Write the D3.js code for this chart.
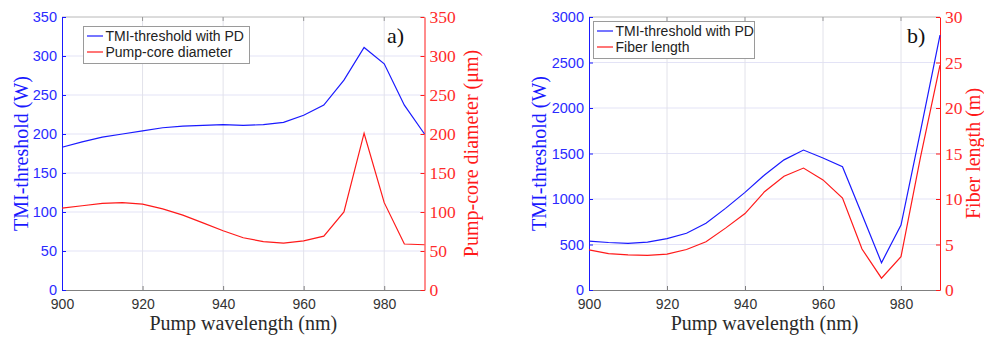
<!DOCTYPE html>
<html><head><meta charset="utf-8">
<script src="https://cdn.jsdelivr.net/npm/d3@7"></script>
<style>body{margin:0;background:#fff}svg{display:block}</style>
</head><body>
<svg id="c" width="984" height="339"></svg>
<script>
// ---------- data ----------
const wavelength = [900,905,910,915,920,925,930,935,940,945,950,955,960,965,970,975,980,985,990];
const tmiA  = [183,190,196,200,204,208,210,211,212,211,212,215,224,237,269,311,290,237,200];
const coreA = [105,108,111,112,110,104,96,86,76,67,62,60,63,69,100,201,112,59,58];
const tmiB  = [538,522,513,527,564,623,733,897,1073,1264,1430,1538,1450,1355,830,300,714,1745,2800];
const fiberB= [4.4,4.0,3.85,3.8,3.95,4.45,5.3,6.8,8.4,10.8,12.5,13.4,12.1,10.1,4.5,1.3,3.66,14.6,24.7];
const xTicks = [900,920,940,960,980];
const leftTicksA = [0,50,100,150,200,250,300,350];
const rightTicksA = [0,50,100,150,200,250,300,350];
const leftTicksB = [0,500,1000,1500,2000,2500,3000];
const rightTicksB = [0,5,10,15,20,25,30];

const BLUE = "#1a1aff", RED = "#ff1a1a";
const svg = d3.select("#c");
const SANS = "'Liberation Sans', Arial, sans-serif";
const SERIF = "'Liberation Serif', 'Times New Roman', serif";
const fmt = d3.format("d");

function panel(o){
  const x = d3.scaleLinear().domain([900,990]).range([o.x0,o.x1]);
  const yL = d3.scaleLinear().domain(o.lDom).range([o.yb,o.yt]);
  const yR = d3.scaleLinear().domain(o.rDom).range([o.yb,o.yt]);
  const g = svg.append("g");
  // grid
  g.selectAll(".hg").data(o.lTicks.slice(1,-1)).join("line")
    .attr("x1",o.x0).attr("x2",o.x1).attr("y1",d=>yL(d)).attr("y2",d=>yL(d))
    .attr("stroke","#e3e3f6").attr("stroke-width",1);
  g.selectAll(".vg").data(xTicks.slice(1)).join("line")
    .attr("y1",o.yt).attr("y2",o.yb).attr("x1",d=>x(d)).attr("x2",d=>x(d))
    .attr("stroke","#e2e2ea").attr("stroke-width",1);
  // top border
  g.append("line").attr("x1",o.x0).attr("x2",o.x1).attr("y1",o.yt).attr("y2",o.yt)
    .attr("stroke","#b8b8b8");
  // bottom axis
  const xa = g.append("g").attr("transform",`translate(0,${o.yb})`)
    .call(d3.axisBottom(x).tickValues(xTicks).tickFormat(fmt).tickSizeInner(-4).tickSizeOuter(0).tickPadding(9));
  xa.select(".domain").attr("stroke","#808080");
  xa.selectAll(".tick line").attr("stroke","#808080");
  xa.selectAll("text").attr("font-family",SANS).attr("font-size","14px").attr("fill","#333");
  // top ticks
  g.selectAll(".tt").data(xTicks.slice(1)).join("line")
    .attr("x1",d=>x(d)).attr("x2",d=>x(d)).attr("y1",o.yt).attr("y2",o.yt+4).attr("stroke","#999");
  // left axis
  const la = g.append("g").attr("transform",`translate(${o.x0},0)`)
    .call(d3.axisLeft(yL).tickValues(o.lTicks).tickFormat(fmt).tickSizeInner(-4).tickSizeOuter(0).tickPadding(5));
  la.select(".domain").attr("stroke",BLUE);
  la.selectAll(".tick line").attr("stroke",BLUE);
  la.selectAll("text").attr("font-family",SANS).attr("font-size","14.5px").attr("fill","#2b2bff");
  // right axis
  const ra = g.append("g").attr("transform",`translate(${o.x1},0)`)
    .call(d3.axisRight(yR).tickValues(o.rTicks).tickFormat(fmt).tickSizeInner(-4).tickSizeOuter(0).tickPadding(5));
  ra.select(".domain").attr("stroke",RED);
  ra.selectAll(".tick line").attr("stroke",RED);
  ra.selectAll("text").attr("font-family",SERIF).attr("font-size","17.5px").attr("fill","#ff2b2b");
  // lines
  const lineL = d3.line().x((d,i)=>x(wavelength[i])).y(d=>yL(d));
  const lineR = d3.line().x((d,i)=>x(wavelength[i])).y(d=>yR(d));
  g.append("path").datum(o.lData).attr("d",lineL).attr("fill","none").attr("stroke",BLUE).attr("stroke-width",1.2);
  g.append("path").datum(o.rData).attr("d",lineR).attr("fill","none").attr("stroke",RED).attr("stroke-width",1.2);
  // titles
  const cx = (o.x0+o.x1)/2, cy=(o.yt+o.yb)/2;
  g.append("text").attr("x",cx).attr("y",330).attr("text-anchor","middle")
    .attr("font-family",SERIF).attr("font-size","20px").attr("fill","#2a2a2a").text("Pump wavelength (nm)");
  g.append("text").attr("transform",`translate(${o.lTitleX},${cy}) rotate(-90)`).attr("text-anchor","middle")
    .attr("font-family",SERIF).attr("font-size","20px").attr("fill",BLUE).text("TMI-threshold (W)");
  g.append("text").attr("transform",`translate(${o.rTitleX},${cy}) rotate(-90)`).attr("text-anchor","middle")
    .attr("font-family",SERIF).attr("font-size","20px").attr("fill",RED).text(o.rTitle);
  g.append("text").attr("x",o.tagX).attr("y",43).attr("font-family",SERIF).attr("font-size","22px")
    .attr("fill","#111").text(o.tag);
  // legend
  const L = o.leg;
  g.append("rect").attr("x",L.x).attr("y",L.y).attr("width",L.w).attr("height",L.h)
    .attr("fill","#fff").attr("stroke","#9a9a9a").attr("stroke-width",1);
  [[o.lName,BLUE],[o.rTitleShort,RED]].forEach((e,i)=>{
    const yy = L.y + 9.5 + i*16;
    g.append("line").attr("x1",L.x+3.5).attr("x2",L.x+19.5).attr("y1",yy).attr("y2",yy)
      .attr("stroke",e[1]).attr("stroke-width",1.2);
    g.append("text").attr("x",L.x+22).attr("y",yy+5).attr("font-family",SANS).attr("font-size","14px")
      .attr("fill","#222").text(e[0]);
  });
}

panel({x0:62,x1:424.5,yt:17,yb:290,lDom:[0,350],rDom:[0,350],lTicks:leftTicksA,rTicks:rightTicksA,
  lData:tmiA,rData:coreA,lTitleX:28,rTitleX:478,rTitle:"Pump-core diameter (μm)",
  tag:"a)",tagX:387,lName:"TMI-threshold with PD",rTitleShort:"Pump-core diameter",
  leg:{x:83.5,y:26.5,w:166,h:37}});
panel({x0:589,x1:940,yt:17,yb:290,lDom:[0,3000],rDom:[0,30],lTicks:leftTicksB,rTicks:rightTicksB,
  lData:tmiB,rData:fiberB,lTitleX:546,rTitleX:980,rTitle:"Fiber length (m)",
  tag:"b)",tagX:907,lName:"TMI-threshold with PD",rTitleShort:"Fiber length",
  leg:{x:593.5,y:21.5,w:161,h:37}});
</script>
</body></html>
